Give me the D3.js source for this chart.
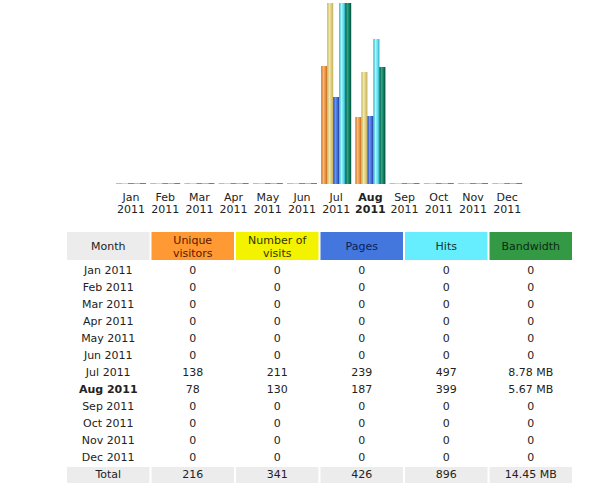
<!DOCTYPE html>
<html>
<head>
<meta charset="utf-8">
<script src="https://cdn.jsdelivr.net/npm/d3@7"></script>
<style>
  body { margin: 0; background: #fff; }
  svg { display: block; font-family: "DejaVu Sans", Verdana, sans-serif; font-size: 11px; }
</style>
</head>
<body>
<div id="chart"></div>
<script>
// monthly history, 2011
const months = ["Jan", "Feb", "Mar", "Apr", "May", "Jun", "Jul", "Aug", "Sep", "Oct", "Nov", "Dec"];
const year = "2011";
const currentMonth = "Aug";
const visitors = [0, 0, 0, 0, 0, 0, 138, 78, 0, 0, 0, 0];
const visits = [0, 0, 0, 0, 0, 0, 211, 130, 0, 0, 0, 0];
const pages = [0, 0, 0, 0, 0, 0, 239, 187, 0, 0, 0, 0];
const hits = [0, 0, 0, 0, 0, 0, 497, 399, 0, 0, 0, 0];
const bandwidthMB = [0, 0, 0, 0, 0, 0, 8.78, 5.67, 0, 0, 0, 0];

const headers = ["Month", "Unique\nvisitors", "Number of\nvisits", "Pages", "Hits", "Bandwidth"];

const W = 616, H = 490;
const svg = d3.select("#chart").append("svg").attr("width", W).attr("height", H);

// bar styles: edge, highlight, body, zero-line
const series = [
    {key: "u", values: visitors, group: "v", c: ["#c06a1c", "#fbb877", "#e8913c", "#f0b070"]},
    {key: "v", values: visits, group: "v", c: ["#bfae5c", "#f3e6a8", "#dccb7c", "#e6d898"]},
    {key: "p", values: pages, group: "p", c: ["#1f3d9e", "#6a96f2", "#3f6cd4", "#6a8ad8"]},
    {key: "h", values: hits, group: "p", c: ["#2aa8bc", "#aaf8ff", "#5ee0f0", "#70d8e6"]},
    {key: "k", values: bandwidthMB, group: "k", c: ["#004a3a", "#2fa585", "#0f7e5e", "#3a9a86"]}
];

const defs = svg.append("defs");
series.forEach(s => {
    const g = defs.append("linearGradient").attr("id", "grad-" + s.key)
        .attr("x1", 0).attr("x2", 1).attr("y1", 0).attr("y2", 0);
    g.append("stop").attr("offset", "0%").attr("stop-color", s.c[0]);
    g.append("stop").attr("offset", "35%").attr("stop-color", s.c[1]);
    g.append("stop").attr("offset", "70%").attr("stop-color", s.c[2]);
    g.append("stop").attr("offset", "100%").attr("stop-color", s.c[0]);
});

// chart
const base = 184, maxH = 181;
const x = d3.scaleBand().domain(months).range([113.9, 524.3]).paddingInner(0.123).paddingOuter(0.0615);
const xs = d3.scaleBand().domain(series.map(s => s.key)).range([0, x.bandwidth()]);

const maxes = {
    v: d3.max(visitors.concat(visits)),
    p: d3.max(pages.concat(hits)),
    k: d3.max(bandwidthMB)
};
const yScales = {};
Object.keys(maxes).forEach(k => {
    yScales[k] = d3.scaleLinear().domain([0, maxes[k]]).range([0, maxH]);
});

const groups = svg.append("g").selectAll("g").data(months).join("g")
    .attr("transform", d => `translate(${x(d)},0)`);

groups.each(function (m, i) {
    const g = d3.select(this);
    series.forEach(s => {
        const h = Math.max(1, Math.round(yScales[s.group](s.values[i])));
        g.append("rect")
            .attr("x", xs(s.key))
            .attr("y", base - h)
            .attr("width", xs.bandwidth())
            .attr("height", h)
            .attr("fill", s.values[i] > 0 ? `url(#grad-${s.key})` : s.c[3]);
    });
});

const labels = svg.append("g").attr("text-anchor", "middle").attr("fill", "#222");
months.forEach(m => {
    const t = labels.append("text")
        .attr("x", x(m) + x.bandwidth() / 2)
        .attr("font-weight", m === currentMonth ? "bold" : null);
    t.append("tspan").attr("x", x(m) + x.bandwidth() / 2).attr("y", 201).text(m);
    t.append("tspan").attr("x", x(m) + x.bandwidth() / 2).attr("y", 213).text(year);
});

// table
const colX = d3.scaleBand().domain(d3.range(6)).range([67, 572]).paddingInner(2 / 84);
const headFill = ["#ececec", "#ff9933", "#f3f300", "#4477dd", "#66eeff", "#339944"];
const headText = ["#222", "#5a1a00", "#333300", "#0a1f55", "#133", "#0d2a12"];

const tbl = svg.append("g").attr("text-anchor", "middle");
headers.forEach((h, i) => {
    tbl.append("rect").attr("x", colX(i)).attr("y", 232)
        .attr("width", colX.bandwidth()).attr("height", 28).attr("fill", headFill[i]);
    const lines = h.split("\n");
    const t = tbl.append("text").attr("fill", headText[i]);
    lines.forEach((ln, j) => {
        t.append("tspan")
            .attr("x", colX(i) + colX.bandwidth() / 2)
            .attr("y", lines.length === 1 ? 250 : 244 + j * 13)
            .text(ln);
    });
});

const fmtMB = v => v === 0 ? "0" : d3.format(".2f")(v) + " MB";
const rowY = d3.scaleLinear().domain([0, 1]).range([273.5, 290.5]);

months.forEach((m, r) => {
    const cells = [m + " " + year, visitors[r], visits[r], pages[r], hits[r], fmtMB(bandwidthMB[r])];
    cells.forEach((c, i) => {
        tbl.append("text")
            .attr("x", colX(i) + colX.bandwidth() / 2)
            .attr("y", rowY(r))
            .attr("fill", "#222")
            .attr("font-weight", i === 0 && m === currentMonth ? "bold" : null)
            .text(c);
    });
});

const totals = ["Total", d3.sum(visitors), d3.sum(visits), d3.sum(pages), d3.sum(hits),
    fmtMB(+d3.sum(bandwidthMB).toFixed(2))];
totals.forEach((c, i) => {
    tbl.append("rect").attr("x", colX(i)).attr("y", 467)
        .attr("width", colX.bandwidth()).attr("height", 16).attr("fill", "#ececec");
    tbl.append("text")
        .attr("x", colX(i) + colX.bandwidth() / 2)
        .attr("y", rowY(12) + 0.5)
        .attr("fill", "#222")
        .text(c);
});
</script>
</body>
</html>
